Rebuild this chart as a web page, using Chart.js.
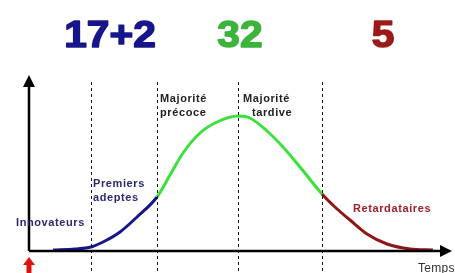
<!DOCTYPE html>
<html>
<head>
<meta charset="utf-8">
<script src="https://cdn.jsdelivr.net/npm/chart.js@4"></script>
<style>
  html, body { margin: 0; padding: 0; background: #fff; }
  #wrap { position: relative; width: 455px; height: 273px; }
</style>
</head>
<body>
<div id="wrap"><canvas id="chart" width="455" height="273"></canvas></div>
<script>
'use strict';

// ── Data ──────────────────────────────────────────────────────
// x = time, y = adoption (arbitrary units)
const innovEarly = [
  { x: 24, y: 1 }, { x: 46, y: 2 }, { x: 62, y: 4 }, { x: 76, y: 10 },
  { x: 91, y: 19 }, { x: 108, y: 34 }, { x: 128, y: 54 },
];
const majority = [
  { x: 141, y: 76 }, { x: 154, y: 98 }, { x: 171, y: 118 }, { x: 188, y: 129 },
  { x: 209, y: 135 }, { x: 221, y: 133 }, { x: 238, y: 120 }, { x: 254, y: 104 },
  { x: 271, y: 84 }, { x: 293, y: 57 },
];
const laggards = [
  { x: 307, y: 43 }, { x: 321, y: 31 }, { x: 338, y: 17 }, { x: 358, y: 7 },
  { x: 381, y: 2 }, { x: 404, y: 1 },
];
const boundaries = [62, 128, 209, 293];
const counts = ['17+2', '32', '5'];
const countX = [81, 211, 354];
const segLabels = [
  ['Innovateurs'], ['Premiers', 'adeptes'], ['Majorité', 'précoce'],
  ['Majorité', 'tardive'], ['Retardataires'],
];

const BLUE = '#16168a';
const GREEN = '#3be03b';
const RED = '#8e1616';

// one smooth curve, coloured by segment
const curve = [...innovEarly, ...majority, ...laggards];
function segColor(ctx) {
  const xv = ctx.p0.parsed.x;
  if (xv < boundaries[1]) return BLUE;
  if (xv < boundaries[3]) return GREEN;
  return RED;
}

// ── Decorations plugin (axes arrows, dashed lines, texts) ─────
const decor = {
  id: 'decor',
  afterDatasetsDraw(chart) {
    const { ctx, chartArea: a, scales: { x, y } } = chart;
    const x0 = x.getPixelForValue(0);
    const y0 = y.getPixelForValue(0);
    ctx.save();

    // dashed boundaries
    ctx.strokeStyle = '#111';
    ctx.lineWidth = 1;
    ctx.setLineDash([3, 3]);
    boundaries.forEach((b) => {
      const px = Math.round(x.getPixelForValue(b)) + 0.5;
      ctx.beginPath();
      ctx.moveTo(px, a.top + 7);
      ctx.lineTo(px, 273);
      ctx.stroke();
    });
    ctx.setLineDash([]);

    // axes
    ctx.strokeStyle = '#000';
    ctx.fillStyle = '#000';
    ctx.lineWidth = 2.5;
    ctx.beginPath();
    ctx.moveTo(x0, y0);
    ctx.lineTo(x0, a.top + 8);
    ctx.moveTo(x0, y0);
    ctx.lineTo(a.right - 8, y0);
    ctx.stroke();
    ctx.beginPath();
    ctx.moveTo(x0, a.top);
    ctx.lineTo(x0 - 6, a.top + 12);
    ctx.lineTo(x0 + 6, a.top + 12);
    ctx.closePath();
    ctx.fill();
    ctx.beginPath();
    ctx.moveTo(a.right, y0);
    ctx.lineTo(a.right - 12, y0 - 6);
    ctx.lineTo(a.right - 12, y0 + 6);
    ctx.closePath();
    ctx.fill();

    // red start arrow
    ctx.fillStyle = '#e01010';
    ctx.beginPath();
    ctx.moveTo(x0, 257);
    ctx.lineTo(x0 - 6, 265);
    ctx.lineTo(x0 - 2.5, 265);
    ctx.lineTo(x0 - 2.5, 273);
    ctx.lineTo(x0 + 2.5, 273);
    ctx.lineTo(x0 + 2.5, 265);
    ctx.lineTo(x0 + 6, 265);
    ctx.closePath();
    ctx.fill();

    // big counts (slightly widened + stroked to look heavier)
    const countColors = [BLUE, '#3cb43c', '#9b1a1a'];
    ctx.font = 'bold 37px "Liberation Sans", Arial, sans-serif';
    ctx.textAlign = 'center';
    ctx.textBaseline = 'alphabetic';
    ctx.lineWidth = 1.5;
    ctx.lineJoin = 'round';
    counts.forEach((c, i) => {
      ctx.save();
      ctx.translate(x.getPixelForValue(countX[i]), 47);
      ctx.scale(1.1, 1);
      ctx.fillStyle = countColors[i];
      ctx.strokeStyle = countColors[i];
      ctx.fillText(c, 0, 0);
      ctx.strokeText(c, 0, 0);
      ctx.restore();
    });

    // segment labels
    ctx.font = 'bold 11px "Liberation Sans", Arial, sans-serif';
    ctx.letterSpacing = '0.6px';
    ctx.textAlign = 'left';
    const lab = [
      { px: 16, py: 226, color: '#2a2a70' },
      { px: 93, py: 187, color: '#2a2a70' },
      { px: 160, py: 102, color: '#222' },
      { px: 243, py: 102, color: '#222' },
      { px: 353, py: 212, color: '#a0202a' },
    ];
    segLabels.forEach((lines, i) => {
      ctx.fillStyle = lab[i].color;
      lines.forEach((t, j) => {
        const dx = (i === 3 && j === 1) ? 9 : 0;
        ctx.fillText(t, lab[i].px + dx, lab[i].py + j * 14);
      });
    });

    ctx.letterSpacing = '0.3px';
    ctx.font = '12px "Liberation Sans", Arial, sans-serif';
    ctx.fillStyle = '#333';
    ctx.fillText('Temps', 418, 272);
    ctx.restore();
  },
};

// ── Chart ─────────────────────────────────────────────────────
new Chart(document.getElementById('chart'), {
  type: 'line',
  data: {
    datasets: [{
      data: curve,
      borderColor: GREEN,
      borderWidth: 3,
      pointRadius: 0,
      fill: false,
      cubicInterpolationMode: 'monotone',
      segment: { borderColor: segColor },
    }],
  },
  options: {
    responsive: false,
    animation: false,
    layout: { padding: { left: 29, top: 75, right: 3, bottom: 22 } },
    plugins: { legend: { display: false }, tooltip: { enabled: false } },
    scales: {
      x: { type: 'linear', min: 0, max: 423, display: false },
      y: { type: 'linear', min: 0, max: 176, display: false },
    },
  },
  plugins: [decor],
});
</script>
</body>
</html>
